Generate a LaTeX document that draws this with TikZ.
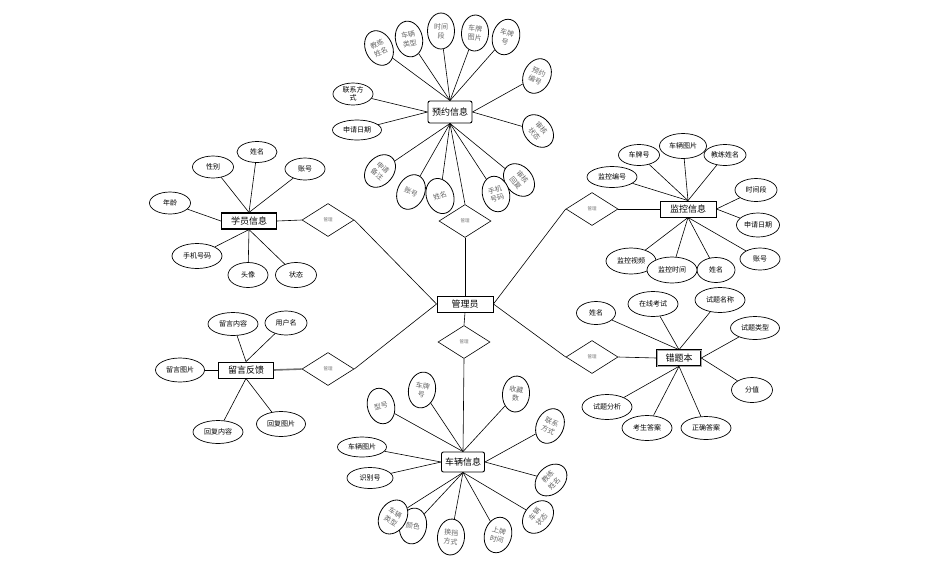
\documentclass[tikz,border=0pt]{standalone}
\usepackage{fontspec}
\newfontfamily\cjk{Noto Sans CJK SC}
\usetikzlibrary{shapes.geometric}
\begin{document}
\begin{tikzpicture}[x=1pt,y=-1pt,
  ent/.style={draw, line width=0.9pt, fill=white, minimum width=56pt, minimum height=16pt, inner sep=0pt, font=\cjk\fontsize{9}{10}\selectfont},
  attr/.style={ellipse, draw, line width=0.7pt, fill=white, inner sep=0pt, font=\cjk\fontsize{7}{8}\selectfont},
  rattr/.style={ellipse, draw, line width=0.8pt, fill=white, inner sep=0pt, minimum width=27pt, minimum height=36pt, align=center, text=black!60, font=\cjk\fontsize{7}{9}\selectfont},
  rattrh/.style={rattr, minimum width=36pt, minimum height=27pt},
  rel/.style={diamond, draw, line width=0.6pt, fill=white, minimum width=52pt, minimum height=33pt, inner sep=0pt, text=black!55, font=\cjk\fontsize{4.5}{5}\selectfont},
  conn/.style={draw, line width=0.6pt}
]
\useasboundingbox (0,0) rectangle (929,566);

% ===== 管理员 and relationships =====
\node[ent, minimum width=56pt] (gly) at (465,304) {管理员};
\node[rel] (dU) at (465,221) {管理};
\node[rel] (dD) at (464,342) {管理};
\node[rel] (d1) at (592,209) {管理};
\node[rel] (d2) at (328,220) {管理};
\node[rel] (d3) at (328,369) {管理};
\node[rel] (d4) at (592,357) {管理};

% ===== 预约信息 =====
\node[ent, rounded corners=2pt, minimum width=44pt, minimum height=22pt] (yy) at (450,112) {预约信息};
\node[rattr, rotate=25] (y1) at (379,48) {教练\\姓名};
\node[rattr, rotate=12] (y2) at (409,39) {车辆\\类型};
\node[rattr] (y3) at (441,31) {时间\\段};
\node[rattr, rotate=-3] (y4) at (475,33) {车牌\\图片};
\node[rattr, rotate=-15] (y5) at (506,37) {车牌\\号};
\node[rattr, rotate=-25] (y6) at (537,76) {预约\\编号};
\node[rattrh, rotate=-50] (y7) at (538,131) {审核\\状态};
\node[rattrh, rotate=-50] (y8) at (519,180) {审核\\回复};
\node[rattr, rotate=15] (y9) at (496,194) {手机\\号码};
\node[rattr, rotate=20] (y10) at (440,196) {姓名};
\node[rattr, rotate=-25] (y11) at (411,192) {账号};
\node[rattr, rotate=-40] (y12) at (380,171) {申请\\备注};
\node[attr, minimum width=40pt, minimum height=22pt, align=center, font=\cjk\fontsize{7}{7.5}\selectfont] (y13) at (353,94) {联系方\\式};
\node[attr, minimum width=49pt, minimum height=20pt] (y14) at (357,130) {申请日期};

% ===== 监控信息 =====
\node[ent] (jk) at (688,209) {监控信息};
\node[attr, minimum width=41pt, minimum height=21pt] (j1) at (639,155) {车牌号};
\node[attr, minimum width=47pt, minimum height=25pt] (j2) at (683,146) {车辆图片};
\node[attr, minimum width=42pt, minimum height=21pt] (j3) at (725,155) {教练姓名};
\node[attr, minimum width=50pt, minimum height=21pt] (j4) at (612,177) {监控编号};
\node[attr, minimum width=42pt, minimum height=23pt] (j5) at (756,190) {时间段};
\node[attr, minimum width=43pt, minimum height=24pt] (j6) at (758,225) {申请日期};
\node[attr, minimum width=40pt, minimum height=22pt] (j7) at (760,259) {账号};
\node[attr, minimum width=38pt, minimum height=25pt] (j8) at (716,270) {姓名};
\node[attr, minimum width=50pt, minimum height=26pt] (j10) at (631,261) {监控视频};
\node[attr, minimum width=50pt, minimum height=26pt] (j9) at (672,270) {监控时间};

% ===== 学员信息 =====
\node[ent, minimum width=55pt, line width=1.1pt] (xy) at (249,221) {学员信息};
\node[attr, minimum width=40pt, minimum height=21pt] (x1) at (257,152) {姓名};
\node[attr, minimum width=41pt, minimum height=22pt] (x2) at (213,167) {性别};
\node[attr, minimum width=40pt, minimum height=22pt] (x3) at (305,169) {账号};
\node[attr, minimum width=41pt, minimum height=22pt] (x4) at (170,203) {年龄};
\node[attr, minimum width=50pt, minimum height=25pt] (x5) at (197,256) {手机号码};
\node[attr, minimum width=40pt, minimum height=25pt] (x6) at (248,275) {头像};
\node[attr, minimum width=41pt, minimum height=25pt] (x7) at (296,275) {状态};

% ===== 留言反馈 =====
\node[ent, minimum width=55pt] (ly) at (246,370) {留言反馈};
\node[attr, minimum width=50pt, minimum height=23pt] (l1) at (233,324) {留言内容};
\node[attr, minimum width=42pt, minimum height=24pt] (l2) at (286,323) {用户名};
\node[attr, minimum width=49pt, minimum height=24pt] (l3) at (180,370) {留言图片};
\node[attr, minimum width=50pt, minimum height=23pt] (l4) at (218,432) {回复内容};
\node[attr, minimum width=49pt, minimum height=25pt] (l5) at (281,424) {回复图片};

% ===== 错题本 =====
\node[ent, minimum width=44pt, double=black!35, double distance=0.7pt, line width=0.6pt] (ct) at (679,358) {错题本};
\node[attr, minimum width=39pt, minimum height=23pt] (c1) at (596,313) {姓名};
\node[attr, minimum width=50pt, minimum height=25pt] (c2) at (653,304) {在线考试};
\node[attr, minimum width=50pt, minimum height=25pt] (c3) at (720,300) {试题名称};
\node[attr, minimum width=49pt, minimum height=23pt] (c4) at (755,328) {试题类型};
\node[attr, minimum width=41pt, minimum height=25pt] (c5) at (752,390) {分值};
\node[attr, minimum width=50pt, minimum height=23pt] (c6) at (706,428) {正确答案};
\node[attr, minimum width=50pt, minimum height=25pt] (c7) at (647,428) {考生答案};
\node[attr, minimum width=50pt, minimum height=25pt] (c8) at (607,407) {试题分析};

% ===== 车辆信息 =====
\node[ent, rounded corners=2pt, minimum width=43pt, minimum height=20pt] (cl) at (463,462) {车辆信息};
\node[rattr, rotate=15] (v1) at (381,406) {型号};
\node[rattr, rotate=-10] (v2) at (422,390) {车牌\\号};
\node[rattr, rotate=-5] (v3) at (516,394) {收藏\\数};
\node[rattr, rotate=-25] (v4) at (550,426) {联系\\方式};
\node[rattrh, rotate=45] (v5) at (551,480) {教练\\姓名};
\node[rattrh, rotate=50] (v6) at (538,517) {车辆\\状态};
\node[rattr, rotate=-15] (v7) at (498,535) {上牌\\时间};
\node[rattr, rotate=-5] (v8) at (451,537) {换挡\\方式};
\node[rattr, rotate=-10] (v9) at (413,526) {颜色};
\node[rattr, rotate=-30] (v10) at (393,517) {车辆\\类型};
\node[attr, minimum width=49pt, minimum height=20pt] (v11) at (362,447) {车辆图片};
\node[attr, minimum width=46pt, minimum height=21pt] (v12) at (370,478) {识别号};

% ===== connectors =====
\begin{scope}[conn]
% 管理员
\draw (gly.north) -- (dU.south);
\draw (dU.north) -- (yy.south);
\draw (gly.south) -- (dD.north);
\draw (dD.south) -- (cl.north);
\draw (gly.east) -- (d1.west);
\draw (d1.east) -- (jk.west);
\draw (gly.east) -- (d4.west);
\draw (d4.east) -- (ct.west);
\draw (gly.west) -- (d2.east);
\draw (d2.west) -- (xy.east);
\draw (gly.west) -- (d3.east);
\draw[line width=1.6pt, black!55] (d3.west) -- (ly.east);
% 预约信息
\foreach \a in {y1,y2,y3,y4,y5} \draw (yy.north) -- (\a);
\foreach \a in {y6,y7} \draw (yy.east) -- (\a);
\foreach \a in {y8,y9,y10,y11,y12} \draw (yy.south) -- (\a);
\foreach \a in {y13,y14} \draw (yy.west) -- (\a);
% 监控信息
\foreach \a in {j1,j2,j3,j4} \draw (jk.north) -- (\a);
\foreach \a in {j5,j6} \draw (jk.east) -- (\a);
\foreach \a in {j7,j8,j9,j10} \draw (jk.south) -- (\a);
% 学员信息
\foreach \a in {x1,x2,x3} \draw (xy.north) -- (\a);
\draw (xy.west) -- (x4);
\foreach \a in {x5,x6,x7} \draw (xy.south) -- (\a);
% 留言反馈
\foreach \a in {l1,l2} \draw (ly.north) -- (\a);
\draw (ly.west) -- (l3);
\foreach \a in {l4,l5} \draw (ly.south) -- (\a);
% 错题本
\foreach \a in {c1,c2,c3} \draw (ct.north) -- (\a);
\foreach \a in {c4,c5} \draw (ct.east) -- (\a);
\foreach \a in {c6,c7,c8} \draw (ct.south) -- (\a);
% 车辆信息
\foreach \a in {v1,v2,v3} \draw (cl.north) -- (\a);
\foreach \a in {v4,v5} \draw (cl.east) -- (\a);
\foreach \a in {v6,v7,v8,v9,v10} \draw (cl.south) -- (\a);
\foreach \a in {v11,v12} \draw (cl.west) -- (\a);
\end{scope}
\end{tikzpicture}
\end{document}
